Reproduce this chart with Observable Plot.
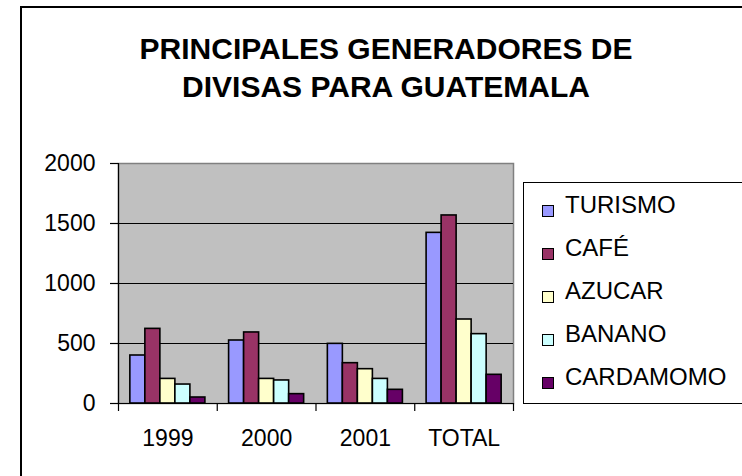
<!DOCTYPE html>
<html>
<head>
<meta charset="utf-8">
<script src="https://cdn.jsdelivr.net/npm/d3@7"></script>
<script src="https://cdn.jsdelivr.net/npm/@observablehq/plot@0.6"></script>
<style>
  html, body { margin: 0; padding: 0; background: #fff; }
  #wrap { position: relative; width: 742px; height: 476px; overflow: hidden; background: #fff;
          font-family: "Liberation Sans", Arial, sans-serif; color: #000; }
  #frame { position: absolute; left: 20px; top: 6px; width: 800px; height: 600px;
           border-left: 2px solid #000; border-top: 2px solid #000; }
  #title { position: absolute; left: 0; top: 30px; width: 772px; text-align: center;
           font-weight: bold; font-size: 30px; line-height: 38px; }
  #chart { position: absolute; left: 0; top: 0; }
  #legend { position: absolute; left: 523px; top: 182px; width: 260px; height: 220px;
            border: 1px solid #000; font-size: 24px; line-height: 43px; }
  .item { position: relative; padding-left: 41px; white-space: nowrap; }
  .sw { position: absolute; left: 18px; top: 22px; width: 10px; height: 10px; border: 1.5px solid #000; }
</style>
</head>
<body>
<div id="wrap">
  <div id="frame"></div>
  <div id="chart"></div>
  <div id="title">PRINCIPALES GENERADORES DE<br>DIVISAS PARA GUATEMALA</div>
  <div id="legend"></div>
</div>
<script>
const categories = ["1999", "2000", "2001", "TOTAL"];
const seriesNames = ["TURISMO", "CAFÉ", "AZUCAR", "BANANO", "CARDAMOMO"];
const turismo   = [400, 525, 497, 1422];
const cafe      = [622, 592, 336, 1567];
const azucar    = [205, 205, 286, 700];
const banano    = [158, 192, 205, 578];
const cardamomo = [50, 78, 114, 239];
const seriesColors = ["#9999FF", "#993366", "#FFFFCC", "#CCFFFF", "#660066"];
const yTicks = [0, 500, 1000, 1500, 2000];

const seriesValues = [turismo, cafe, azucar, banano, cardamomo];
const rows = [];
seriesNames.forEach((s, si) => {
  categories.forEach((c, ci) => {
    rows.push({category: c, ci, series: s, si, value: seriesValues[si][ci]});
  });
});

// bar layout within each category slot (fraction of slot)
const barW = 0.152;
const gap = (1 - seriesNames.length * barW) / 2;

const plot = Plot.plot({
  width: 742,
  height: 476,
  marginLeft: 118,
  marginRight: 229,
  marginTop: 163,
  marginBottom: 73,
  style: {fontSize: "23px", fontFamily: "Liberation Sans, Arial, sans-serif", background: "transparent", color: "#000"},
  x: {type: "linear", domain: [0, categories.length]},
  y: {domain: [0, 2000]},
  color: {domain: seriesNames, range: seriesColors},
  marks: [
    Plot.frame({fill: "#C0C0C0", stroke: "#808080", strokeWidth: 1.5}),
    Plot.ruleY(yTicks.filter(t => t > 0 && t < 2000), {stroke: "#000", strokeWidth: 1.2}),
    Plot.rectY(rows, {
      x1: d => d.ci + gap + d.si * barW,
      x2: d => d.ci + gap + (d.si + 1) * barW,
      y1: 0,
      y2: "value",
      fill: "series",
      stroke: "#000",
      strokeWidth: 1.6
    }),
    Plot.ruleY([0], {stroke: "#000", strokeWidth: 1.2}),
    Plot.ruleX([0], {stroke: "#000", strokeWidth: 1.2}),
    Plot.axisY({ticks: yTicks, tickSize: 8, tickPadding: 15, label: null, tickFormat: d => String(d), stroke: "#000", strokeOpacity: 1, strokeWidth: 1.2}),
    Plot.axisX({ticks: d3.range(categories.length + 1), tickSize: 8, label: null, tickFormat: () => "", stroke: "#000", strokeOpacity: 1, strokeWidth: 1.2}),
    Plot.axisX({ticks: categories.map((c, i) => i + 0.5), tickSize: 0, tickPadding: 26, label: null, tickFormat: d => categories[Math.floor(d)]})
  ]
});
document.getElementById("chart").appendChild(plot);

const legend = document.getElementById("legend");
seriesNames.forEach((s, i) => {
  const item = document.createElement("div");
  item.className = "item";
  const sw = document.createElement("span");
  sw.className = "sw";
  sw.style.background = seriesColors[i];
  item.appendChild(sw);
  item.appendChild(document.createTextNode(s));
  legend.appendChild(item);
});
</script>
</body>
</html>
